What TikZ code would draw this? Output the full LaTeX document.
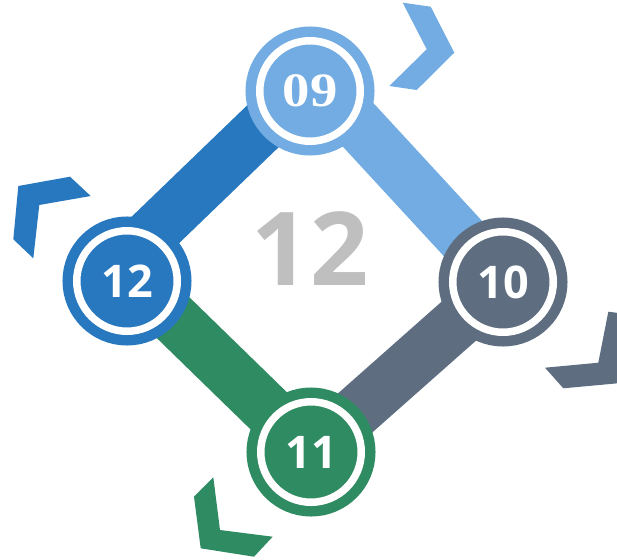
\documentclass[tikz,border=0pt]{standalone}
\usepackage{fontspec}
\setmainfont{Open Sans}
\newfontfamily\serifnum[FakeStretch=1.14]{Liberation Serif}
\usetikzlibrary{backgrounds}
\definecolor{SkyBlue}{HTML}{72ACE2}
\definecolor{MidBlue}{HTML}{2878C0}
\definecolor{SlateGray}{HTML}{5E6E80}
\definecolor{SeaGreen}{HTML}{2E8B62}
\definecolor{LightGray}{HTML}{BFBFBF}
\tikzset{
  dial/.style={circle, inner sep=0pt, minimum size=100.5pt, fill=#1, draw=#1,
    line width=10.5pt, double=white, double distance=7.5pt, text=white,
    font=\fontsize{45}{54}\selectfont\bfseries},
  bar/.style={draw=#1, line width=52pt, line cap=butt},
}
\begin{document}
\begin{tikzpicture}[x=1pt, y=-1pt]
\clip (0,0) rectangle (617,559);

% Total
\node[text=LightGray, font=\fontsize{102}{120}\selectfont\bfseries] (total) at (310,249) {12};

% Months
\node[dial=SkyBlue, font=\fontsize{48}{56}\selectfont\serifnum\bfseries] (m09) at (310,91) {09};
\node[dial=SlateGray] (m10) at (503,282) {10};
\node[dial=SeaGreen] (m11) at (311,452) {11};
\node[dial=MidBlue] (m12) at (127,281) {12};

% Bars
\begin{scope}[on background layer]
\draw[bar=SkyBlue] ([shift={(4,-14)}]m09.center) -- (m10.center);
\draw[bar=SlateGray] (m10.center) -- (m11.center);
\draw[bar=SeaGreen] (m11.center) -- ([shift={(-8,-16)}]m12.center);
\draw[bar=MidBlue] ([shift={(-8,-16)}]m12.center) -- ([shift={(4,-14)}]m09.center);
\end{scope}

% Chevrons
\fill[SkyBlue] (402.7,2.7) -- (430.7,6.7) -- (454.3,52.7) -- (416.7,90) -- (389.3,86) -- (426.7,49.3) -- cycle;
\fill[SlateGray] (608.3,311.7) -- (634,315) -- (621,383) -- (563.3,388.3) -- (545,367.7) -- (598.3,362.7) -- cycle;
\fill[SeaGreen] (213.3,477.3) -- (194,496.7) -- (200.7,548.3) -- (254,556.7) -- (272.7,536.7) -- (220,530) -- cycle;
\fill[MidBlue] (18.3,186) -- (70,176.7) -- (90.7,196) -- (39.3,205) -- (33.3,258.3) -- (13.3,239.3) -- cycle;
\end{tikzpicture}
\end{document}
